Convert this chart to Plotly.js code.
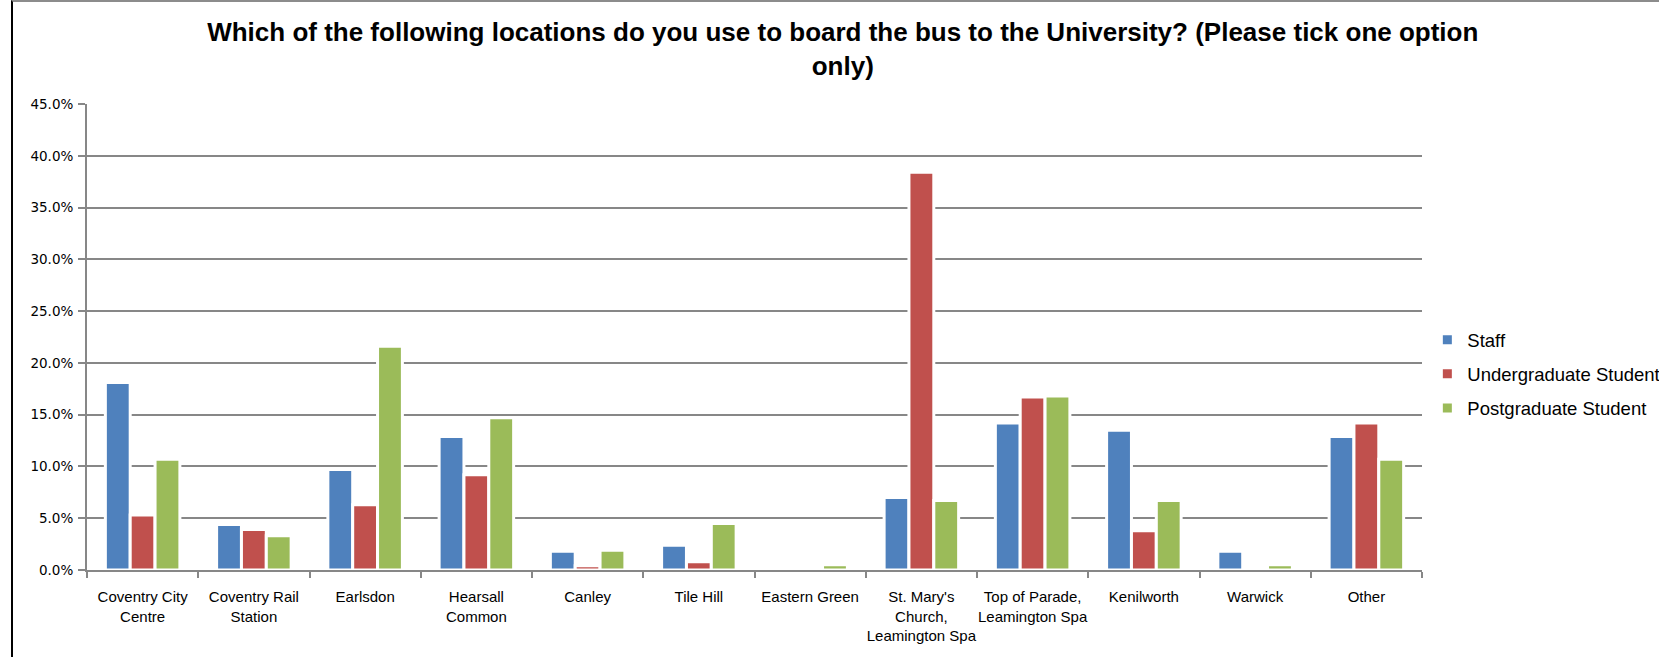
<!DOCTYPE html>
<html>
<head>
<meta charset="utf-8">
<script src="https://cdn.plot.ly/plotly-3.0.1.min.js"></script>
<style>
  html, body { margin: 0; padding: 0; background: #fff; overflow: hidden; }
  #wrap { position: relative; width: 1659px; height: 657px; overflow: hidden; }
  #chart { position: absolute; left: 0; top: 0; width: 1659px; height: 657px; }
  #frame { position: absolute; left: 11px; top: 0; width: 1700px; height: 700px;
           border-left: 2px solid #000; border-top: 2px solid #8c8c8c; pointer-events: none; box-sizing: border-box; }
</style>
</head>
<body>
<div id="wrap">
  <div id="chart"></div>
  <div id="frame"></div>
</div>
<script>
// ---- data (percent of respondents) ----
const categories = [
  "Coventry City<br>Centre",
  "Coventry Rail<br>Station",
  "Earlsdon",
  "Hearsall<br>Common",
  "Canley",
  "Tile Hill",
  "Eastern Green",
  "St. Mary's<br>Church,<br>Leamington Spa",
  "Top of Parade,<br>Leamington Spa",
  "Kenilworth",
  "Warwick",
  "Other"
];
const staff         = [18.1, 4.4, 9.7, 12.9, 1.8, 2.4, 0.0, 7.0, 14.2, 13.5, 1.8, 12.9];
const undergraduate = [5.3, 3.9, 6.3, 9.2, 0.4, 0.8, 0.0, 38.4, 16.7, 3.8, 0.0, 14.2];
const postgraduate  = [10.7, 3.3, 21.6, 14.7, 1.9, 4.5, 0.5, 6.7, 16.8, 6.7, 0.5, 10.7];
const seriesNames = ["Staff", "Undergraduate Student", "Postgraduate Student"];
const yTickVals = [0, 5, 10, 15, 20, 25, 30, 35, 40, 45];
const yTickText = ["0.0%", "5.0%", "10.0%", "15.0%", "20.0%", "25.0%", "30.0%", "35.0%", "40.0%", "45.0%"];

const colors = ["#4F81BD", "#C0504D", "#9BBB59"];
const seriesValues = [staff, undergraduate, postgraduate];

const traces = seriesValues.map((vals, i) => ({
  type: "bar",
  name: seriesNames[i],
  x: categories,
  y: vals,
  legendgroup: "g" + i,
  marker: { color: colors[i], line: { color: "#ffffff", width: 3 } },
  hoverinfo: "skip"
}));

const gridColor = "#878787";

const layout = {
  width: 1659,
  height: 657,
  paper_bgcolor: "#ffffff",
  plot_bgcolor: "#ffffff",
  margin: { l: 87, r: 237, t: 104, b: 87, pad: 0, autoexpand: false },
  barmode: "group",
  bargap: 0.33,
  bargroupgap: 0,
  font: { family: "Liberation Sans, Arial, sans-serif", color: "#000" },
  title: {
    text: "<b>Which of the following locations do you use to board the bus to the University? (Please tick one option<br>only)</b>",
    font: { family: "Liberation Sans, Arial, sans-serif", size: 26, color: "#000" },
    xref: "container", x: 0.508, xanchor: "center",
    yref: "container", y: 0.937, yanchor: "middle"
  },
  xaxis: {
    type: "category",
    tickson: "boundaries",
    ticks: "outside",
    ticklen: 6,
    tickwidth: 2,
    tickcolor: gridColor,
    showline: true,
    linecolor: gridColor,
    linewidth: 2,
    showgrid: false,
    ticklabelstandoff: 12,
    tickfont: { family: "Liberation Sans, Arial, sans-serif", size: 15, color: "#000" },
    tickangle: 0,
    automargin: false
  },
  yaxis: {
    range: [0, 45],
    tickmode: "array",
    tickvals: yTickVals,
    ticktext: yTickText,
    ticks: "outside",
    ticklen: 7,
    tickwidth: 2,
    tickcolor: gridColor,
    showline: true,
    linecolor: gridColor,
    linewidth: 2,
    showgrid: true,
    gridcolor: gridColor,
    gridwidth: 2,
    zeroline: false,
    ticklabelstandoff: 2,
    tickfont: { family: "DejaVu Sans, Verdana, sans-serif", size: 13.5, color: "#000" },
    automargin: false
  },
  legend: {
    x: 1.004, xanchor: "left",
    y: 0.42, yanchor: "middle",
    traceorder: "grouped",
    tracegroupgap: 7,
    font: { family: "Liberation Sans, Arial, sans-serif", size: 18.5, color: "#000" },
    bgcolor: "rgba(0,0,0,0)",
    borderwidth: 0
  },
  showlegend: true
};

Plotly.newPlot("chart", traces, layout, { displayModeBar: false, staticPlot: true });
</script>
</body>
</html>
